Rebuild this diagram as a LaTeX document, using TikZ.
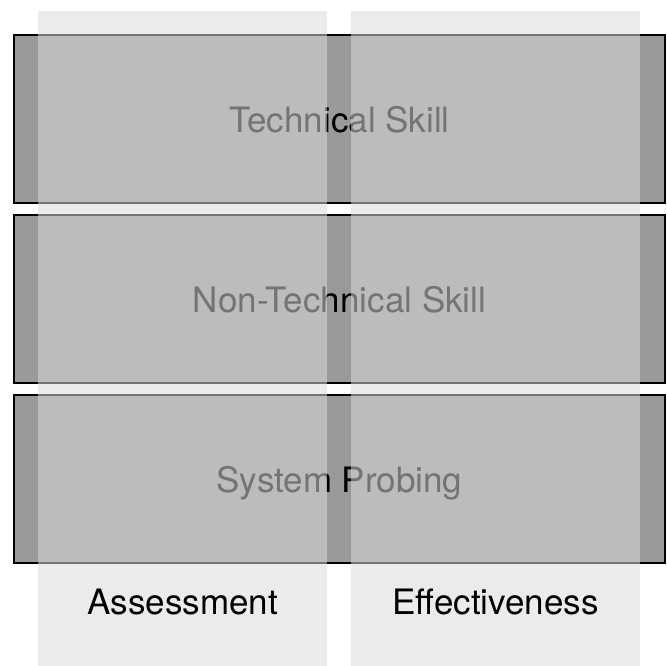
\documentclass[tikz,border=0pt]{standalone}
\usepackage{fontspec}
\setmainfont{TeX Gyre Heros}
\usepackage{tikz}
\usetikzlibrary{positioning}
\definecolor{colorBand}{gray}{0.604}
\definecolor{colorColumn}{gray}{0.853}
\tikzset{
  band/.style={draw=black, line width=1.3pt, fill=colorBand, minimum width=651pt, minimum height=168pt, inner sep=0pt, outer sep=0pt, text depth=0pt, font=\fontsize{35}{42}\selectfont},
  column/.style={fill=colorColumn, fill opacity=0.535, minimum width=289pt, minimum height=655pt, inner sep=0pt},
  label/.style={font=\fontsize{35}{42}\selectfont}
}

\begin{document}
\begin{tikzpicture}[x=1pt, y=1pt]
\useasboundingbox[fill=white] (0,0) rectangle (667,666);
% the three skill bands
\node[band] (technical) at (339.5,547) {Technical Skill};
\node[band, below=12pt of technical] (nontechnical) {Non-Technical Skill};
\node[band, below=12pt of nontechnical] (probing) {System Probing};
% the two see-through columns on top
\node[column] (assessment) at (182.75,327.5) {};
\node[column] (effectiveness) at (495.5,327.5) {};
\node[label] (assessmentLabel) at (182.5,64) {Assessment};
\node[label] (effectivenessLabel) at (495.5,64) {Effectiveness};
\end{tikzpicture}
\end{document}
